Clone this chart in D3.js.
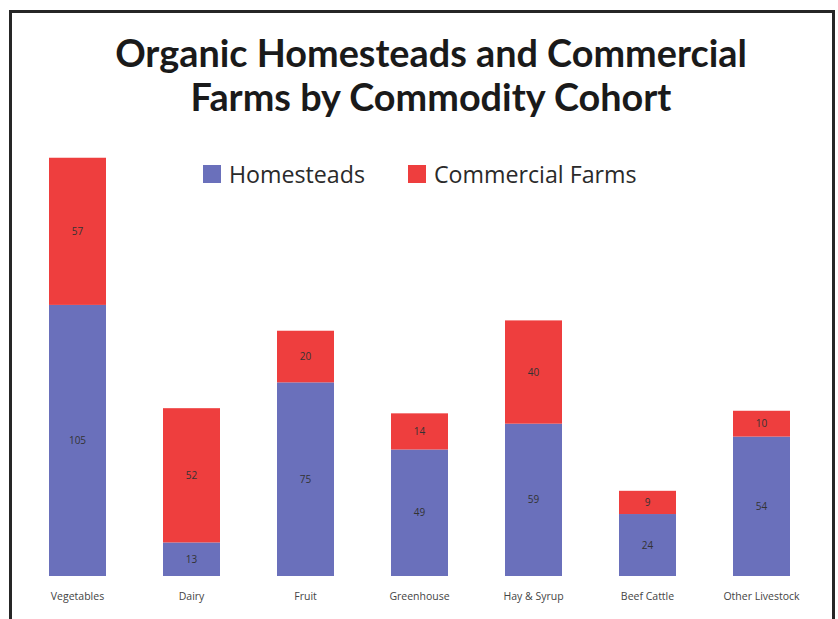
<!DOCTYPE html>
<html>
<head>
<meta charset="utf-8">
<script src="https://cdn.jsdelivr.net/npm/d3@7/dist/d3.min.js"></script>
<style>
  html, body { margin: 0; padding: 0; background: #fff; }
  svg { display: block; }
</style>
</head>
<body>
<svg id="chart" width="838" height="619"></svg>
<script>
// Farm counts per commodity cohort
const categories = ["Vegetables", "Dairy", "Fruit", "Greenhouse", "Hay & Syrup", "Beef Cattle", "Other Livestock"];
const homesteads = [105, 13, 75, 49, 59, 24, 54];
const commercial = [57, 52, 20, 14, 40, 9, 10];
const seriesNames = ["Homesteads", "Commercial Farms"];
const seriesColors = ["#6a70bb", "#ee3e3e"];

const svg = d3.select("#chart");

// Outer frame
svg.append("path")
  .attr("d", "M10.5,619 V11.5 H833.5 V619")
  .attr("fill", "none")
  .attr("stroke", "#262626")
  .attr("stroke-width", 3);

// Title
const title = svg.append("text")
  .attr("text-anchor", "middle")
  .attr("font-family", "Lato, 'Open Sans', sans-serif")
  .attr("font-weight", 700)
  .attr("font-size", 37.8)
  .attr("fill", "#1a1a1a");
title.append("tspan").attr("x", 431).attr("y", 67).text("Organic Homesteads and Commercial");
title.append("tspan").attr("x", 431).attr("y", 111).text("Farms by Commodity Cohort");

// Stacked data
const rows = categories.map((c, i) => ({ category: c, Homesteads: homesteads[i], "Commercial Farms": commercial[i] }));
const stacked = d3.stack().keys(seriesNames)(rows);

const x = d3.scaleBand()
  .domain(categories)
  .range([20.5, 818.5])
  .paddingInner(0.5)
  .paddingOuter(0.25);

const y = d3.scaleLinear()
  .domain([0, 165])
  .range([576, 150]);

const color = d3.scaleOrdinal().domain(seriesNames).range(seriesColors);

// Bars
const layer = svg.append("g").selectAll("g")
  .data(stacked)
  .join("g")
  .attr("fill", d => color(d.key));

layer.selectAll("rect")
  .data(d => d.map(v => ({ key: d.key, v })))
  .join("rect")
  .attr("x", d => x(d.v.data.category))
  .attr("y", d => y(d.v[1]))
  .attr("width", x.bandwidth())
  .attr("height", d => y(d.v[0]) - y(d.v[1]));

// Value labels centred in each segment
layer.selectAll("text")
  .data(d => d.map(v => ({ key: d.key, v })))
  .join("text")
  .attr("x", d => x(d.v.data.category) + x.bandwidth() / 2)
  .attr("y", d => (y(d.v[0]) + y(d.v[1])) / 2 + 3.5)
  .attr("text-anchor", "middle")
  .attr("font-family", "'Open Sans', sans-serif")
  .attr("font-size", 10)
  .attr("fill", "#333")
  .text(d => d.v.data[d.key]);

// Category axis labels
const xAxis = d3.axisBottom(x).tickSize(0).tickPadding(0);
const axisG = svg.append("g")
  .attr("transform", "translate(0,596)")
  .call(xAxis);
axisG.select(".domain").remove();
axisG.selectAll("text")
  .attr("font-family", "'Open Sans', sans-serif")
  .attr("font-size", 10.5)
  .attr("fill", "#444")
  .attr("dy", "0.35em");

// Legend
const legend = svg.append("g")
  .attr("font-family", "'Open Sans', sans-serif")
  .attr("font-size", 23.2)
  .attr("fill", "#333");
const legendX = [203, 408];
seriesNames.forEach((name, i) => {
  const g = legend.append("g").attr("transform", `translate(${legendX[i]},165)`);
  g.append("rect").attr("width", 18).attr("height", 18).attr("fill", color(name));
  g.append("text").attr("x", 26).attr("y", 18).attr("fill", "#2a2a2a").text(name);
});
</script>
</body>
</html>
